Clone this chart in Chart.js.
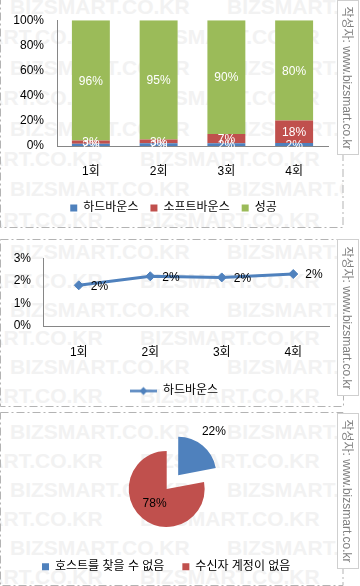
<!DOCTYPE html>
<html lang="ko">
<head>
<meta charset="utf-8">
<script src="https://cdn.jsdelivr.net/npm/chart.js@4/dist/chart.umd.min.js"></script>
<style>
  html, body { margin: 0; padding: 0; background: #fff; }
  #page { position: relative; width: 360px; height: 586px; overflow: hidden; }
  .panel { position: absolute; left: 0; width: 350px; overflow: hidden; }
  .wm { position: absolute; font: bold 21px 'Liberation Sans', Arial, sans-serif; line-height: 24px;
        color: #f2f2f2; white-space: nowrap; }
  canvas { position: absolute; left: 0; top: 0; }
  .credit { position: absolute; left: 337px; width: 22px; box-sizing: border-box; background: #fff;
            border: 1px solid #cfcfcf; }
  .credit span { position: absolute; left: 50%; top: 50%; white-space: nowrap; color: #7f7f7f;
                 font: 12px 'Liberation Sans', 'Noto Sans CJK KR', sans-serif;
                 transform: translate(-50%, -50%) rotate(90deg); }
  svg { position: absolute; left: 0; top: 0; }
</style>
</head>
<body>
<div id="page">
  <div class="panel" id="p1" style="top:0;height:228px"><canvas id="c1" width="347" height="227"></canvas></div>
  <div class="panel" id="p2" style="top:239px;height:168px"><canvas id="c2" width="348" height="168"></canvas></div>
  <div class="panel" id="p3" style="top:412px;height:174px"><canvas id="c3" width="343" height="172"></canvas></div>
  <svg width="360" height="586">
    <rect x="343" y="0" width="17" height="586" fill="#fff"></rect>
    <g fill="none" stroke="#b3b3b3" stroke-width="1" stroke-dasharray="8 3 2 3">
      <rect x="0.5" y="-0.5" width="342.5" height="228"></rect>
      <rect x="0.5" y="239.5" width="343" height="167"></rect>
      <rect x="0.5" y="412.5" width="342.5" height="173"></rect>
    </g>
  </svg>
  <div class="credit" style="top:0;height:155px"><span>작성자: www.bizsmart.co.kr</span></div>
  <div class="credit" style="top:239px;height:157px"><span>작성자: www.bizsmart.co.kr</span></div>
  <div class="credit" style="top:413px;height:156px"><span>작성자: www.bizsmart.co.kr</span></div>
</div>
<script>
// 발송 회차별 결과
const rounds = ['1회', '2회', '3회', '4회'];
const hardBounce = [1.8, 2.2, 2.15, 2.3];
const softBounce = [2.6, 3.0, 7.4, 17.9];
const success = [95.6, 94.8, 90.45, 79.8];
const pctTicks = [0, 20, 40, 60, 80, 100];
const hardTicks = [0, 1, 2, 3];

// 하드바운스 원인
const causeLabels = ['호스트를 찾을 수 없음', '수신자 계정이 없음'];
const causeValues = [22, 78];

const BLUE = '#4f81bd', RED = '#c0504d', GREEN = '#9bbb59', AXIS = '#868686';

Chart.defaults.font.family = "'Liberation Sans', 'Noto Sans CJK KR', sans-serif";
Chart.defaults.font.size = 12;
Chart.defaults.color = '#000';

// background watermark, one block per panel
function watermark(panelId, firstY, step, rows) {
  const panel = document.getElementById(panelId);
  for (let r = 0; r < rows; r++) {
    const start = r % 2 === 0 ? 10 : -77;
    for (let x = start; x < 343; x += 217) {
      const d = document.createElement('div');
      d.className = 'wm';
      d.textContent = 'BIZSMART.CO.KR';
      d.style.left = x + 'px';
      d.style.top = (firstY + r * step - 12) + 'px';
      panel.insertBefore(d, panel.firstChild);
    }
  }
}
watermark('p1', 7, 30.4, 8);
watermark('p2', 13, 28.8, 6);
watermark('p3', 20, 29, 6);

const pctText = v => Math.round(v) + '%';
const noGrid = { display: false, drawTicks: false };
// empty axis on the right: only reserves room so the legend stays centred on the panel
const spacer = w => ({
  position: 'right', display: true, grid: noGrid, border: { display: false },
  ticks: { display: false }, afterFit: s => { s.width = w; }
});

const barLabels = {
  id: 'barLabels',
  afterDatasetsDraw(chart) {
    const ctx = chart.ctx;
    ctx.save();
    ctx.font = "12px 'Liberation Sans', 'Noto Sans CJK KR', sans-serif";
    ctx.fillStyle = '#fff';
    ctx.textAlign = 'center';
    ctx.textBaseline = 'middle';
    chart.data.datasets.forEach((ds, i) => {
      chart.getDatasetMeta(i).data.forEach((bar, j) => {
        ctx.fillText(pctText(ds.data[j]), bar.x, (bar.y + bar.base) / 2 + 1);
      });
    });
    ctx.restore();
  }
};

const pointLabels = {
  id: 'pointLabels',
  afterDatasetsDraw(chart) {
    const ctx = chart.ctx;
    ctx.save();
    ctx.font = "12px 'Liberation Sans', 'Noto Sans CJK KR', sans-serif";
    ctx.fillStyle = '#000';
    ctx.textAlign = 'left';
    ctx.textBaseline = 'middle';
    const ds = chart.data.datasets[0];
    chart.getDatasetMeta(0).data.forEach((pt, j) => {
      ctx.fillText(pctText(ds.data[j]), pt.x + 12, pt.y + 1);
    });
    ctx.restore();
  }
};

const sliceLabels = {
  id: 'sliceLabels',
  afterDatasetsDraw(chart, args, opts) {
    const ctx = chart.ctx;
    ctx.save();
    ctx.font = "12px 'Liberation Sans', 'Noto Sans CJK KR', sans-serif";
    ctx.fillStyle = '#000';
    ctx.textAlign = 'center';
    ctx.textBaseline = 'middle';
    const ds = chart.data.datasets[0];
    chart.getDatasetMeta(0).data.forEach((arc, j) => {
      const mid = (arc.startAngle + arc.endAngle) / 2;
      const r = arc.outerRadius * opts.radius[j];
      ctx.fillText(pctText(ds.data[j]), arc.x + Math.cos(mid) * r, arc.y + Math.sin(mid) * r);
    });
    ctx.restore();
  }
};

// 1. 100% stacked bars
new Chart(document.getElementById('c1'), {
  type: 'bar',
  data: {
    labels: rounds,
    datasets: [
      { label: '하드바운스', data: hardBounce, backgroundColor: BLUE },
      { label: '소프트바운스', data: softBounce, backgroundColor: RED },
      { label: '성공', data: success, backgroundColor: GREEN }
    ]
  },
  options: {
    responsive: false, animation: false,
    layout: { padding: { left: 0, right: 0, top: 17, bottom: 3 } },
    datasets: { bar: { categoryPercentage: 1, barPercentage: 0.56 } },
    scales: {
      x: { stacked: true, grid: noGrid, border: { color: AXIS },
           ticks: { padding: 18 }, afterFit: s => { s.height = 44; } },
      y: { stacked: true, min: 0, max: 100, grid: noGrid, border: { color: AXIS },
           afterBuildTicks: s => { s.ticks = pctTicks.map(v => ({ value: v })); },
           ticks: { padding: 13, callback: v => v + '%' },
           afterFit: s => { s.width = 57; } },
      yR: spacer(19)
    },
    plugins: {
      legend: { position: 'bottom', labels: { boxWidth: 7, boxHeight: 7, padding: 12 } },
      tooltip: { enabled: false }
    }
  },
  plugins: [barLabels]
});

// 2. hard bounce line
const legendLine = document.createElement('canvas');
legendLine.width = 27; legendLine.height = 11;
(function () {
  const g = legendLine.getContext('2d');
  g.strokeStyle = BLUE; g.fillStyle = BLUE; g.lineWidth = 2.5;
  g.beginPath(); g.moveTo(0, 5.5); g.lineTo(27, 5.5); g.stroke();
  g.beginPath(); g.moveTo(13.5, 1.5); g.lineTo(17.5, 5.5); g.lineTo(13.5, 9.5); g.lineTo(9.5, 5.5); g.closePath(); g.fill();
})();

new Chart(document.getElementById('c2'), {
  type: 'line',
  data: {
    labels: rounds,
    datasets: [{
      label: '하드바운스', data: hardBounce, borderColor: BLUE, backgroundColor: BLUE,
      borderWidth: 3, pointStyle: 'rectRot', pointRadius: 4.5, pointBorderWidth: 1, tension: 0
    }]
  },
  options: {
    responsive: false, animation: false,
    layout: { padding: { left: 0, right: 0, top: 17, bottom: 0 } },
    scales: {
      x: { offset: true, grid: noGrid, border: { color: AXIS },
           ticks: { padding: 19 }, afterFit: s => { s.height = 49; } },
      y: { min: 0, max: 3, grid: noGrid, border: { color: AXIS },
           afterBuildTicks: s => { s.ticks = hardTicks.map(v => ({ value: v })); },
           ticks: { padding: 12, callback: v => v + '%' },
           afterFit: s => { s.width = 43; } },
      yR: spacer(19)
    },
    plugins: {
      legend: {
        position: 'bottom',
        labels: {
          usePointStyle: true, pointStyleWidth: 27, padding: 10,
          generateLabels(chart) {
            const items = Chart.defaults.plugins.legend.labels.generateLabels(chart);
            items.forEach(it => { it.pointStyle = legendLine; });
            return items;
          }
        }
      },
      tooltip: { enabled: false }
    }
  },
  plugins: [pointLabels]
});

// 3. hard bounce causes
new Chart(document.getElementById('c3'), {
  type: 'pie',
  data: {
    labels: causeLabels,
    datasets: [{ data: causeValues, backgroundColor: [BLUE, RED], borderWidth: 0, offset: [72, 0] }]
  },
  options: {
    responsive: false, animation: false,
    radius: 38,
    layout: { padding: { left: 24, right: 33.6, top: 23.3, bottom: 1.3 } },
    plugins: {
      legend: { position: 'bottom', align: 'start', labels: { boxWidth: 7, boxHeight: 7, padding: 18 } },
      tooltip: { enabled: false },
      sliceLabels: { radius: [1.95, 0.5] }
    }
  },
  plugins: [sliceLabels]
});
</script>
</body>
</html>
